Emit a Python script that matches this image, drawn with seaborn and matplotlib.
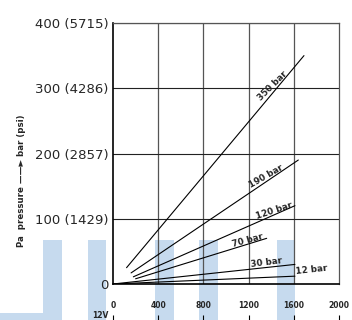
import matplotlib
matplotlib.use("Agg")
import matplotlib.pyplot as plt
import numpy as np
import pandas as pd
import seaborn as sns
from matplotlib.patches import Rectangle

# %%
# pressure lines (flow on x, pressure in bar on y)
series = ["350 bar", "190 bar", "120 bar", "70 bar", "30 bar", "12 bar"]
x_start = [120, 160, 180, 200, 0, 0]
y_start = [25, 17, 11, 8, 0, 0]
x_end = [1690, 1640, 1610, 1360, 1610, 1610]
y_end = [350, 190, 120, 70, 30, 12]

# where each label sits (data coords) and its tilt
label_x = [1416, 1354, 1429, 1190, 1354, 1757]
label_y = [303, 165, 112, 67, 33, 21]
label_rot = [45, 30, 18, 15, 7, 6]

x_ticks = [0, 400, 800, 1200, 1600, 2000]
y_ticks = [0, 100, 200, 300, 400]
y_tick_labels = ["0", "100 (1429)", "200 (2857)", "300 (4286)", "400 (5715)"]

# %%
df = pd.DataFrame({
    "series": series * 2,
    "flow": x_start + x_end,
    "pressure": y_start + y_end,
})

sns.set_style("white")
plt.rcParams["font.family"] = ["DejaVu Sans"]

W, H = 352, 320
fig = plt.figure(figsize=(W / 100, H / 100), dpi=100)
ax = fig.add_axes([113 / W, 36 / H, 226 / W, 261 / H])
ax.set_facecolor("none")

# light blue bands behind the chart (pixel boxes: x0, x1, top)
band_color = "#c6daee"
for x0, x1, top in [(43, 62, 240), (88, 106, 240), (155, 174, 240), (199, 218, 240), (277, 295, 240)]:
    fig.add_artist(Rectangle((x0 / W, 0), (x1 - x0) / W, 1 - top / H,
                             transform=fig.transFigure, color=band_color, lw=0, zorder=-5))
fig.add_artist(Rectangle((0, 0), 43 / W, 1 - 313 / H,
                         transform=fig.transFigure, color=band_color, lw=0, zorder=-5))

sns.lineplot(data=df, x="flow", y="pressure", units="series", estimator=None,
             color="black", lw=0.8, ax=ax, legend=False)

for s, lx, ly, r in zip(series, label_x, label_y, label_rot):
    ax.text(lx, ly, s, rotation=r, ha="center", va="center",
            fontsize=6.3, fontweight="bold", rotation_mode="anchor")

ax.set_xlim(0, 2000)
ax.set_ylim(0, 400)
ax.set_xticks(x_ticks)
ax.set_xticklabels([str(t) for t in x_ticks], fontsize=5.5, fontweight="bold")
ax.set_yticks(y_ticks)
ax.set_yticklabels(y_tick_labels, fontsize=9.5)
ax.tick_params(axis="x", length=0, pad=12)
ax.tick_params(axis="y", length=0, pad=3)
ax.set_xlabel("")
ax.set_ylabel("")

for x in x_ticks[1:-1]:
    ax.axvline(x, color="#555555", lw=0.9, zorder=1)
for y in y_ticks[1:]:
    ax.axhline(y, color="#222222", lw=0.8, zorder=1)

for side in ["left", "bottom"]:
    ax.spines[side].set_color("black")
    ax.spines[side].set_linewidth(1.2)
for side in ["top", "right"]:
    ax.spines[side].set_color("#555555")
    ax.spines[side].set_linewidth(0.9)

# lower scale (cut off in the source)
sec = ax.secondary_xaxis(-0.118)
sec.set_xticks(x_ticks)
sec.set_xticklabels([])
sec.tick_params(bottom=True, direction="out", length=5, width=0.8, color="black")
sec.spines["bottom"].set_visible(False)

fig.text(100 / W, 1 - 316 / H, "12V", ha="center", va="center", fontsize=5.5, fontweight="bold")
fig.text(22 / W, 1 - 181 / H, "Pa  pressure ——► bar (psi)", rotation=90,
         ha="center", va="center", fontsize=6.2, fontweight="bold")

fig.savefig("out.png", dpi=100)
